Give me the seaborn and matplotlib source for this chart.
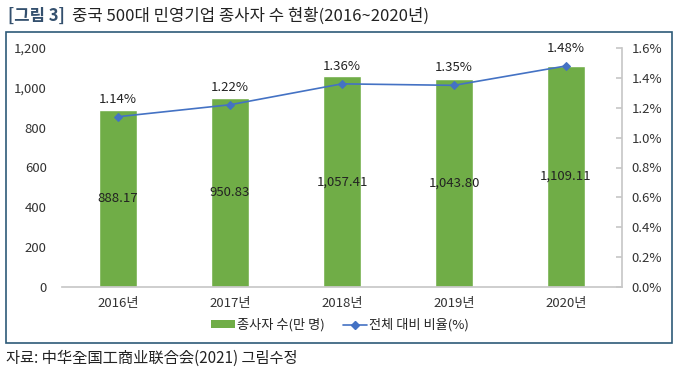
import matplotlib
matplotlib.use("Agg")
import matplotlib.pyplot as plt
import seaborn as sns
import pandas as pd
from matplotlib.patches import Rectangle, Patch
from matplotlib.lines import Line2D
from matplotlib.ticker import FuncFormatter

# data
years = ["2016년", "2017년", "2018년", "2019년", "2020년"]
workers = [888.17, 950.83, 1057.41, 1043.80, 1109.11]
share = [1.14, 1.22, 1.36, 1.35, 1.48]

sns.set_theme(style="white")
plt.rcParams['font.family'] = ['Noto Sans CJK KR', 'DejaVu Sans']

df = pd.DataFrame({"year": years, "workers": workers, "share": share})

fig = plt.figure(figsize=(6.79, 3.73), dpi=100)
ax = fig.add_axes([62/679, 1 - 287/373, 560/679, 239/373])

sns.barplot(data=df, x="year", y="workers", color="#70ad47", saturation=1,
            width=0.34, ax=ax)
ax.set_ylim(0, 1200)
ax.set_xlim(-0.5, 4.5)
ax.set_yticks(range(0, 1201, 200))
ax.yaxis.set_major_formatter(FuncFormatter(lambda v, p: f"{int(v):,}"))
ax.set_xlabel("")
ax.set_ylabel("")
for s in ["top", "right", "left"]:
    ax.spines[s].set_visible(False)
ax.spines["bottom"].set_color("#c8c8c8")
ax.tick_params(axis="both", labelsize=9.5, colors="#333333", length=0, pad=7)
ax.tick_params(axis="y", pad=11)

# bar value labels in the middle of bars
for i, v in enumerate(workers):
    ax.text(i, v / 2, f"{v:,.2f}", ha="center", va="center", fontsize=9.5,
            color="#222222")

ax2 = ax.twinx()
sns.lineplot(x=list(range(len(years))), y=share, ax=ax2, color="#4472c4",
             marker="D", markersize=4.5, markeredgecolor="#4472c4",
             linewidth=1.2)
ax2.set_ylim(0, 1.6)
ax2.set_xlim(-0.5, 4.5)
ax2.set_yticks([i * 0.2 for i in range(9)])
ax2.yaxis.set_major_formatter(FuncFormatter(lambda v, p: f"{v:.1f}%"))
for s in ["top", "left", "bottom"]:
    ax2.spines[s].set_visible(False)
ax2.spines["right"].set_color("#c8c8c8")
ax2.tick_params(axis="y", labelsize=9.5, labelcolor="#333333", color="#c8c8c8",
                direction="in", length=4, pad=7)

for i, v in enumerate(share):
    ax2.annotate(f"{v:.2f}%", (i, v), xytext=(0, 8), textcoords="offset points",
                 ha="center", va="bottom", fontsize=9.5, color="#222222")

# legend
handles = [
    Patch(facecolor="#70ad47", edgecolor="none"),
    Line2D([0], [0], color="#4472c4", marker="D", markersize=4, linewidth=1.2),
]
fig.legend(handles, ["종사자 수(만 명)", "전체 대비 비율(%)"], loc="center",
           bbox_to_anchor=(340/679, 1 - 325/373), ncol=2, frameon=False,
           fontsize=9.5, handlelength=1.8, handleheight=0.45,
           handletextpad=0.15, columnspacing=1.4)

# outer box
fig.patches.append(Rectangle((6/679, 1 - 343/373), 666/679, 311/373,
                             transform=fig.transFigure, fill=False,
                             edgecolor="#2d5a78", linewidth=1.2))

# title and source
fig.text(8/679, 1 - 16/373, "[그림 3]", fontsize=12, color="#34506e",
         ha="left", va="center", fontweight="bold")
fig.text(72/679, 1 - 16/373, "중국 500대 민영기업 종사자 수 현황(2016~2020년)",
         fontsize=12, color="#222222", ha="left", va="center")
fig.text(6/679, 1 - 358/373, "자료: 中华全国工商业联合会(2021) 그림수정",
         fontsize=11, color="#222222", ha="left", va="center")

fig.savefig("out.png", dpi=100)
